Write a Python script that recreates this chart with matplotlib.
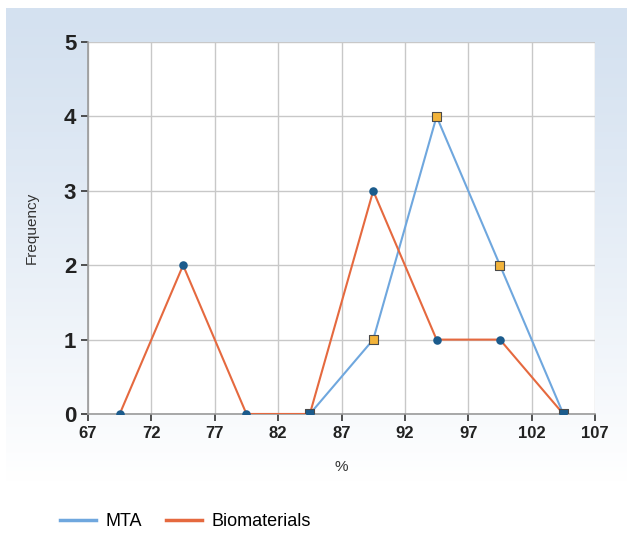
import numpy as np
import matplotlib
matplotlib.use("Agg")
import matplotlib.pyplot as plt
from matplotlib.lines import Line2D
from matplotlib.patches import Rectangle

bins_bio = [69.5, 74.5, 79.5, 84.5, 89.5, 94.5, 99.5, 104.5]
freq_bio = [0, 2, 0, 0, 3, 1, 1, 0]
bins_mta = [84.5, 89.5, 94.5, 99.5, 104.5]
freq_mta = [0, 1, 4, 2, 0]
xticks = [67, 72, 77, 82, 87, 92, 97, 102, 107]
yticks = [0, 1, 2, 3, 4, 5]

FONT = ["Liberation Sans", "DejaVu Sans"]

fig = plt.figure(figsize=(6.27, 5.33), dpi=100)
fig.patch.set_facecolor("white")

# background gradient (with thin white margins at top/left)
W, H = 627, 533
bg = fig.add_axes([6 / W, 0, 1 - 6 / W, 1 - 8 / H], zorder=-10)
top = np.array([212, 225, 240]) / 255.0
bot = np.array([255, 255, 255]) / 255.0
t = np.linspace(0, 1, 256)[:, None]
t = np.clip(t / 0.9, 0, 1) ** 1.2
grad = top[None, :] * (1 - t) + bot[None, :] * t
grad = np.repeat(grad[:, None, :], 2, axis=1)
bg.imshow(grad, aspect="auto", extent=[0, 1, 0, 1], origin="upper")
bg.add_patch(Rectangle((22 / W, 0), 255 / W, 35 / H, color="white", transform=fig.transFigure, zorder=1))
bg.set_xlim(0, 1); bg.set_ylim(0, 1)
bg.axis("off")

ax = fig.add_axes([0.1404, 0.2233, 0.8086, 0.6977])
ax.set_facecolor("white")

mta_col = "#6fa7de"
bio_col = "#e5693f"
dark = "#1b5b8c"
sq = "#f2b33a"

ax.plot(bins_mta, freq_mta, color=mta_col, lw=1.5, zorder=3)
ax.plot(bins_bio, freq_bio, color=bio_col, lw=1.5, zorder=3)
ax.scatter(bins_bio, freq_bio, s=38, marker="o", color=dark, zorder=4, linewidths=0)
mta_fill = [sq if v > 0 else dark for v in freq_mta]
ax.scatter(bins_mta, freq_mta, s=42, marker="s", c=mta_fill, edgecolors="#4a4a4a",
           linewidths=0.8, zorder=5)

ax.set_xlim(67, 107)
ax.set_ylim(0, 5)
ax.set_xticks(xticks)
ax.set_yticks(yticks)
ax.grid(True, color="#c8c8c8", lw=1)
ax.set_axisbelow(True)
for s in ["top", "right"]:
    ax.spines[s].set_visible(False)
for s in ["left", "bottom"]:
    ax.spines[s].set_color("#9a9a9a")
    ax.spines[s].set_linewidth(1.2)
ax.tick_params(axis="both", direction="out", length=5, width=1.2, color="#333333")
for lab in ax.get_xticklabels():
    lab.set_fontweight("bold"); lab.set_fontsize(12); lab.set_color("#222222")
    lab.set_family(FONT)
for lab in ax.get_yticklabels():
    lab.set_fontweight("bold"); lab.set_fontsize(16); lab.set_color("#222222")
    lab.set_family(FONT)
ax.set_xlabel("%", fontsize=11, color="#333333", labelpad=14, family=FONT)
ax.set_ylabel("Frequency", fontsize=11, color="#333333", labelpad=18, family=FONT)

handles = [Line2D([], [], color=mta_col, lw=2.5), Line2D([], [], color=bio_col, lw=2.5)]
fig.legend(handles, ["MTA", "Biomaterials"], loc="center left",
           bbox_to_anchor=(0.069, 0.021), ncol=2, frameon=False,
           prop={"family": FONT, "size": 13},
           handlelength=2.0, columnspacing=1.3, handletextpad=0.55)

fig.savefig("out.png", dpi=100)
